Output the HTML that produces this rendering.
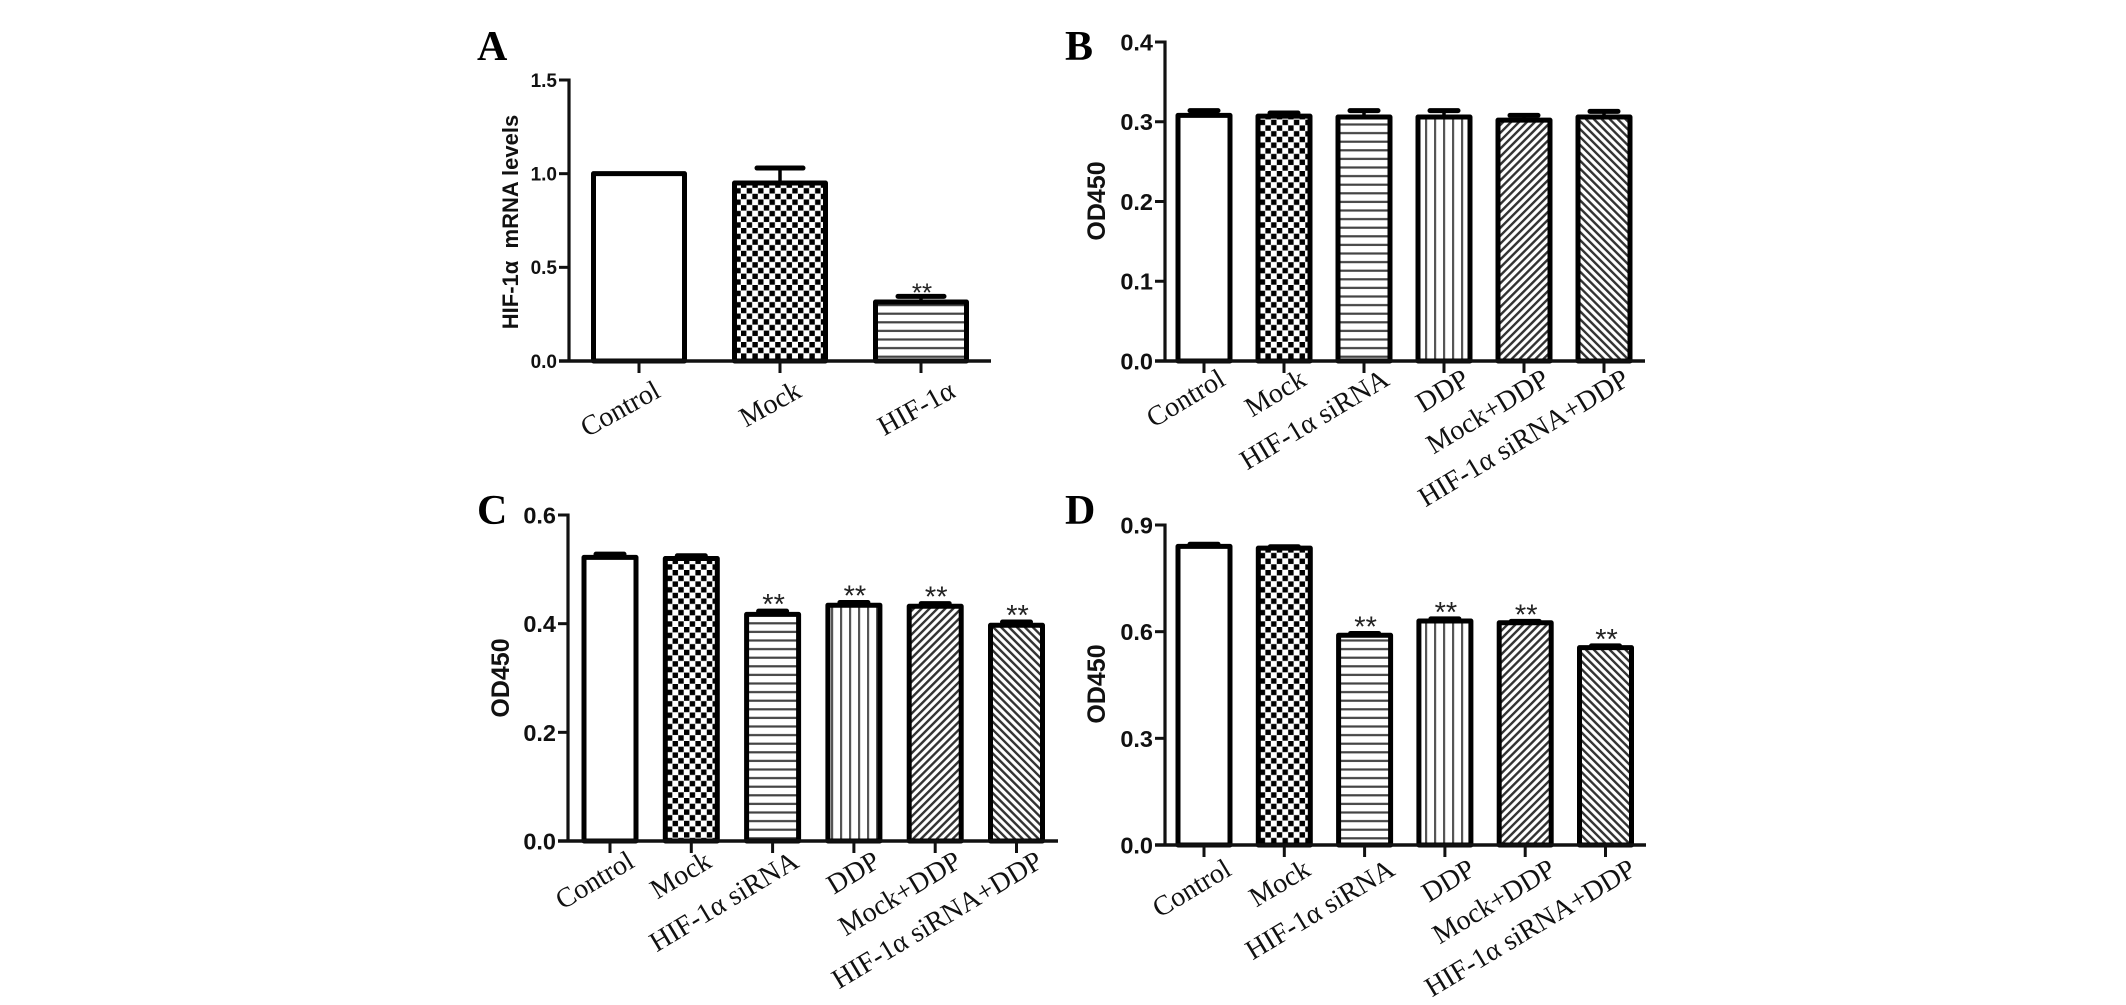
<!DOCTYPE html>
<html lang="en">
<head>
<meta charset="utf-8">
<title>HIF-1α bar charts</title>
<style>
html,body{margin:0;padding:0;background:#fff;width:2126px;height:1005px;overflow:hidden}
svg{display:block}
.ytick{font-family:"Liberation Sans",sans-serif;font-weight:bold;fill:#111;text-anchor:end}
.ytitle{font-family:"Liberation Sans",sans-serif;font-weight:bold;fill:#111;text-anchor:middle}
.xlabel{font-family:"Liberation Serif",serif;fill:#111;text-anchor:end}
.letter{font-family:"Liberation Serif",serif;font-weight:bold;fill:#000;font-size:42px}
.star{font-family:"Liberation Sans",sans-serif;fill:#222;text-anchor:middle}
</style>
</head>
<body>
<svg id="figure" xmlns="http://www.w3.org/2000/svg" width="2126" height="1005" viewBox="0 0 2126 1005">
<defs>
<pattern id="fill-check" patternUnits="userSpaceOnUse" width="11.4" height="11.4"><rect width="11.4" height="11.4" fill="#fff"/><rect width="5.4" height="5.4" fill="#000"/><rect x="5.7" y="5.7" width="5.4" height="5.4" fill="#000"/></pattern>
<pattern id="fill-horizontal" patternUnits="userSpaceOnUse" width="8" height="8.6"><rect width="8" height="8.6" fill="#fff"/><rect y="3" width="8" height="2.2" fill="#444"/></pattern>
<pattern id="fill-vertical" patternUnits="userSpaceOnUse" width="9" height="8"><rect width="9" height="8" fill="#fff"/><rect x="3" width="2.2" height="8" fill="#555"/></pattern>
<pattern id="fill-diag-up" patternUnits="userSpaceOnUse" width="5.6" height="5.6" patternTransform="rotate(45)"><rect width="5.6" height="5.6" fill="#fff"/><rect width="2.4" height="5.6" fill="#333"/></pattern>
<pattern id="fill-diag-down" patternUnits="userSpaceOnUse" width="5.6" height="5.6" patternTransform="rotate(-45)"><rect width="5.6" height="5.6" fill="#fff"/><rect width="2.4" height="5.6" fill="#333"/></pattern>
</defs>
</svg>
<script>
// Chart data
const categoriesA = ['Control', 'Mock', 'HIF-1α'];
const categoriesFull = ['Control', 'Mock', 'HIF-1α siRNA', 'DDP', 'Mock+DDP', 'HIF-1α siRNA+DDP'];

const valuesA = [1.0, 0.95, 0.315];
const errorsA = [0, 0.08, 0.03];
const ticksA = ['0.0', '0.5', '1.0', '1.5'];
const starsA = [false, false, true];

const valuesB = [0.308, 0.307, 0.306, 0.306, 0.302, 0.306];
const errorsB = [0.006, 0.004, 0.008, 0.008, 0.006, 0.007];
const ticksB = ['0.0', '0.1', '0.2', '0.3', '0.4'];
const starsB = [false, false, false, false, false, false];

const valuesC = [0.522, 0.520, 0.417, 0.434, 0.432, 0.397];
const errorsC = [0.006, 0.005, 0.006, 0.005, 0.005, 0.006];
const ticksC = ['0.0', '0.2', '0.4', '0.6'];
const starsC = [false, false, true, true, true, true];

const valuesD = [0.840, 0.835, 0.590, 0.630, 0.625, 0.555];
const errorsD = [0.006, 0.004, 0.005, 0.006, 0.004, 0.005];
const ticksD = ['0.0', '0.3', '0.6', '0.9'];
const starsD = [false, false, true, true, true, true];

const fills = ['#fff', 'url(#fill-check)', 'url(#fill-horizontal)', 'url(#fill-vertical)', 'url(#fill-diag-up)', 'url(#fill-diag-down)'];
const fillsA = ['#fff', 'url(#fill-check)', 'url(#fill-horizontal)'];

const NS = 'http://www.w3.org/2000/svg';
const figure = document.getElementById('figure');

function make(parent, tag, attrs, text) {
  const el = document.createElementNS(NS, tag);
  for (const k in attrs) el.setAttribute(k, attrs[k]);
  if (text !== undefined) el.textContent = text;
  parent.appendChild(el);
  return el;
}

function drawPanel(p) {
  const g = make(figure, 'g', {});
  
  

  const maxTick = parseFloat(p.ticks[p.ticks.length - 1]);
  const yScale = v => p.base - (v / maxTick) * (p.base - p.top);
  const xScale = i => p.x0 + i * p.step;

  const letter = make(g, 'text', {class: 'letter', x: p.letterX, y: p.letterY}, p.id);
  
  

  const title = make(g, 'text', {class: 'ytitle', 'font-size': p.titleSize,
    transform: 'translate(' + p.titleX + ',' + p.titleY + ') rotate(-90)', 'xml:space': 'preserve'}, p.title);
  title.style.whiteSpace = 'pre';
  
  

  p.values.forEach((v, i) => {
    const cx = xScale(i);
    const yv = yScale(v);
    if (p.errors[i] > 0) {
      const ye = yScale(v + p.errors[i]);
      const stem = make(g, 'line', {x1: cx, x2: cx, y1: yv, y2: ye, stroke: '#000', 'stroke-width': 3.5});
      
      
      const cap = make(g, 'line', {x1: cx - p.capW / 2, x2: cx + p.capW / 2, y1: ye, y2: ye,
        stroke: '#000', 'stroke-width': 5, 'stroke-linecap': 'round'});
      
      
    }
    const bar = make(g, 'rect', {x: cx - p.barW / 2, y: yv, width: p.barW, height: p.base - yv,
      fill: p.fills[i], stroke: '#000', 'stroke-width': 5, 'stroke-linejoin': 'round'});
    
    

    if (p.stars[i]) {
      const star = make(g, 'text', {class: 'star', x: cx + 1, y: yScale(v + p.errors[i]) + p.starOffset,
        'font-size': p.starSize}, '**');
      
      
    }

    const tick = make(g, 'line', {x1: cx, x2: cx, y1: p.base, y2: p.base + 12, stroke: '#111', 'stroke-width': 3});
    
    

    const shift = (p.labelShift && p.labelShift[i]) || 0;
    const lx = cx + p.labelDx + shift, ly = p.base + p.labelDy;
    const label = make(g, 'text', {class: 'xlabel', x: lx, y: ly, 'font-size': p.labelSize,
      transform: 'rotate(' + p.labelAngle + ' ' + lx + ' ' + ly + ')'}, p.categories[i]);
    
    
  });

  const yAxis = make(g, 'line', {x1: p.axisX, x2: p.axisX, y1: p.top - 1.5, y2: p.base + 1.5, stroke: '#111', 'stroke-width': 3.2});
  
  

  const xAxis = make(g, 'line', {x1: p.axisX - 10, x2: p.axisEnd, y1: p.base, y2: p.base, stroke: '#111', 'stroke-width': 3.6});
  
  

  p.ticks.forEach(t => {
    const y = yScale(parseFloat(t));
    const tl = make(g, 'line', {x1: p.axisX - 10, x2: p.axisX, y1: y, y2: y, stroke: '#111', 'stroke-width': 3});
    
    
    const lab = make(g, 'text', {class: 'ytick', x: p.axisX - 12, y: y + p.tickSize * 0.36, 'font-size': p.tickSize}, t);
    
    
  });
}

drawPanel({id: 'A', categories: categoriesA, values: valuesA, errors: errorsA, ticks: ticksA, stars: starsA, fills: fillsA,
  axisX: 569, axisEnd: 991, top: 80, base: 361, x0: 639, step: 141, barW: 91, capW: 46,
  letterX: 477, letterY: 60, title: 'HIF-1α  mRNA levels', titleX: 518, titleY: 222, titleSize: 22,
  tickSize: 19, starSize: 26, starOffset: 5, labelDx: 23, labelDy: 35, labelSize: 28, labelAngle: -29, labelShift: [0, 0, 13]});

drawPanel({id: 'B', categories: categoriesFull, values: valuesB, errors: errorsB, ticks: ticksB, stars: starsB, fills: fills,
  axisX: 1165, axisEnd: 1645, top: 42, base: 361, x0: 1204, step: 80, barW: 52, capW: 28,
  letterX: 1065, letterY: 60, title: 'OD450', titleX: 1105, titleY: 201, titleSize: 25,
  tickSize: 23.5, starSize: 24, starOffset: 5, labelDx: 27, labelDy: 23, labelSize: 28, labelAngle: -31, labelShift: [-4, -3, 0, 0, 0, 0]});

drawPanel({id: 'C', categories: categoriesFull, values: valuesC, errors: errorsC, ticks: ticksC, stars: starsC, fills: fills,
  axisX: 568, axisEnd: 1058, top: 515, base: 841, x0: 610, step: 81.3, barW: 52, capW: 28,
  letterX: 477, letterY: 524, title: 'OD450', titleX: 509, titleY: 678, titleSize: 25,
  tickSize: 23.5, starSize: 29, starOffset: 3, labelDx: 28, labelDy: 25, labelSize: 28, labelAngle: -31, labelShift: [-2, -6, 0, 0, 0, 0]});

drawPanel({id: 'D', categories: categoriesFull, values: valuesD, errors: errorsD, ticks: ticksD, stars: starsD, fills: fills,
  axisX: 1165, axisEnd: 1646, top: 525, base: 845, x0: 1204, step: 80.3, barW: 52, capW: 28,
  letterX: 1065, letterY: 524, title: 'OD450', titleX: 1105, titleY: 684, titleSize: 25,
  tickSize: 23.5, starSize: 29, starOffset: 3, labelDx: 32, labelDy: 29, labelSize: 28, labelAngle: -31, labelShift: [-3, -4, 0, 0, 0, 0]});
</script>
</body>
</html>
